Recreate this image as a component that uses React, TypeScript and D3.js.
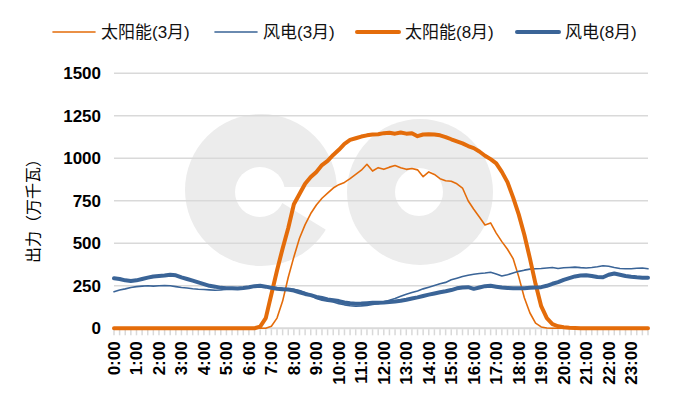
import React from 'react';
import * as d3 from 'd3';

// 96 points, one every 15 minutes
const solarMar = [
  0, 0, 0, 0, 0, 0, 0, 0, 0, 0, 0, 0, 0, 0, 0, 0, 0, 0, 0, 0, 0, 0, 0, 0, 0, 0, 0, 0,
  12, 60, 160, 300, 420, 530, 610, 675, 725, 765, 795, 825, 845, 858, 880, 905, 930, 965,
  925, 945, 935, 948, 958, 945, 935, 940, 932, 892, 920, 905, 880, 868, 865, 850, 825, 750,
  700, 655, 608, 620, 560, 510, 465, 410, 304, 180, 90, 30, 8, 2,
  0, 0, 0, 0, 0, 0, 0, 0, 0, 0, 0, 0, 0, 0, 0, 0, 0, 0,
];

const windMar = [
  215, 225, 232, 240, 245, 248, 250, 248, 250, 252, 250, 245, 240, 237, 233, 230,
  228, 226, 224, 225, 230, 233, 235, 237, 240, 243, 246, 248, 242, 238, 236, 233,
  230, 222, 210, 195, 175, 165, 160, 155, 145, 138, 133, 130, 132, 135, 140, 145,
  155, 165, 175, 188, 200, 210, 220, 232, 242, 252, 262, 270, 285, 295, 305, 312,
  318, 322, 325, 330, 320, 308, 315, 325, 335, 342, 348, 350, 352, 355, 358, 352,
  356, 358, 360, 357, 355, 358, 362, 368, 365, 358, 352, 350, 350, 353, 355, 350,
];

const solarAug = [
  0, 0, 0, 0, 0, 0, 0, 0, 0, 0, 0, 0, 0, 0, 0, 0, 0, 0, 0, 0, 0, 0, 0, 0, 0, 0,
  10, 60, 200, 340, 470, 590, 730, 790, 850, 890, 920, 960, 985, 1020, 1050, 1085,
  1108, 1118, 1128, 1135, 1140, 1142, 1148, 1150, 1145, 1152, 1145, 1148, 1130, 1140,
  1142, 1140, 1135, 1125, 1112, 1100, 1088, 1072, 1060, 1040, 1015, 995, 970, 920,
  860, 770, 670, 550, 410, 260, 130, 60, 25, 12, 6, 3, 2, 1,
  0, 0, 0, 0, 0, 0, 0, 0, 0, 0, 0, 0,
];

const windAug = [
  294, 290, 282, 278, 282, 290, 298, 305, 308, 310, 315, 312, 300, 290, 280, 270,
  260, 250, 245, 238, 236, 235, 234, 237, 242, 248, 250, 245, 238, 233, 230, 228,
  222, 212, 202, 195, 185, 178, 170, 165, 160, 152, 147, 145, 146, 148, 150, 150,
  152, 155, 158, 162, 168, 175, 182, 190, 198, 205, 212, 218, 225, 235, 240, 242,
  232, 240, 248, 250, 245, 240, 237, 236, 235, 236, 238, 240, 242, 250, 262, 272,
  285, 295, 305, 310, 312, 308, 302, 300, 315, 322, 315, 308, 303, 300, 298, 298,
];

const hourLabels = [
  '0:00', '1:00', '2:00', '3:00', '4:00', '5:00', '6:00', '7:00', '8:00', '9:00', '10:00', '11:00',
  '12:00', '13:00', '14:00', '15:00', '16:00', '17:00', '18:00', '19:00', '20:00', '21:00', '22:00', '23:00',
];

const yTicks = [0, 250, 500, 750, 1000, 1250, 1500];

const ORANGE = '#E46C0A';
const BLUE = '#3A6497';

const series = [
  { name: '太阳能(3月)', values: solarMar, color: ORANGE, width: 1.6 },
  { name: '风电(3月)', values: windMar, color: BLUE, width: 1.6 },
  { name: '太阳能(8月)', values: solarAug, color: ORANGE, width: 4 },
  { name: '风电(8月)', values: windAug, color: BLUE, width: 4 },
];

const legendPos = [53, 215, 357, 517];

export default function App() {
  const width = 682;
  const height = 399;
  const left = 114;
  const right = 648;
  const top = 73.3;
  const bottom = 328.3;

  const idx = d3.range(solarMar.length);
  const x = d3.scaleLinear().domain([0, idx.length - 1]).range([left, right]);
  const y = d3.scaleLinear().domain([0, 1500]).range([bottom, top]);

  const line = d3
    .line<number>()
    .x((_, i) => x(i))
    .y((d) => y(d));

  const font = '"Liberation Sans", "Noto Sans CJK SC", sans-serif';

  // watermark "eo"
  const wedge = d3.arc()({ innerRadius: 0, outerRadius: 80, startAngle: Math.PI / 2, endAngle: Math.PI / 2 + 0.55 } as any) || '';

  return (
    <svg
      width={width}
      height={height}
      style={{ position: 'absolute', left: 0, top: 0, background: '#fff' }}
      fontFamily={font}
    >
      {/* watermark */}
      <g>
        <circle cx={261} cy={190} r={76} fill="#ececec" />
        <path d={wedge} transform="translate(261,190)" fill="#fff" />
        <rect x={260} y={187} width={82} height={6} fill="#fff" />
        <circle cx={260} cy={192} r={25} fill="#fff" />
        <circle cx={420} cy={192} r={73} fill="#ececec" />
        <circle cx={419} cy={192} r={24} fill="#fff" />
      </g>

      {/* gridlines */}
      {yTicks.map((t) => (
        <line key={t} x1={left} x2={right} y1={y(t)} y2={y(t)} stroke="#d9d9d9" strokeWidth={t === 0 ? 2 : 1.5} />
      ))}

      {/* minor ticks */}
      {idx.map((i) => (
        <line key={i} x1={x(i)} x2={x(i)} y1={bottom + 1} y2={bottom + 7} stroke="#d9d9d9" strokeWidth={1.5} />
      ))}

      {/* y labels */}
      {yTicks.map((t) => (
        <text key={t} x={101} y={y(t)} dy="0.35em" textAnchor="end" fontSize={17} fontWeight="bold" fill="#000">
          {t}
        </text>
      ))}

      <text
        transform="translate(33,207) rotate(-90)"
        textAnchor="middle"
        dy="0.35em"
        fontSize={16}
        fill="#000"
      >
        出力（万千瓦）
      </text>

      {/* x labels */}
      {hourLabels.map((h, i) => (
        <text
          key={h}
          transform={`translate(${x(i * 4)},${bottom + 13}) rotate(-90)`}
          textAnchor="end"
          dy="0.35em"
          fontSize={17}
          fontWeight="bold"
          fill="#000"
        >
          {h}
        </text>
      ))}

      {/* series */}
      {series.map((s) => (
        <path
          key={s.name}
          d={line(s.values) || ''}
          fill="none"
          stroke={s.color}
          strokeWidth={s.width}
          strokeLinejoin="round"
          strokeLinecap="round"
        />
      ))}

      {/* legend */}
      {series.map((s, i) => (
        <g key={s.name} transform={`translate(${legendPos[i]},32)`}>
          <line x1={0} x2={42} y1={0} y2={0} stroke={s.color} strokeWidth={s.width === 4 ? 4 : 1.6} strokeLinecap="round" />
          <text x={48} y={0} dy="0.35em" fontSize={17} fill="#111">
            {s.name}
          </text>
        </g>
      ))}
    </svg>
  );
}
